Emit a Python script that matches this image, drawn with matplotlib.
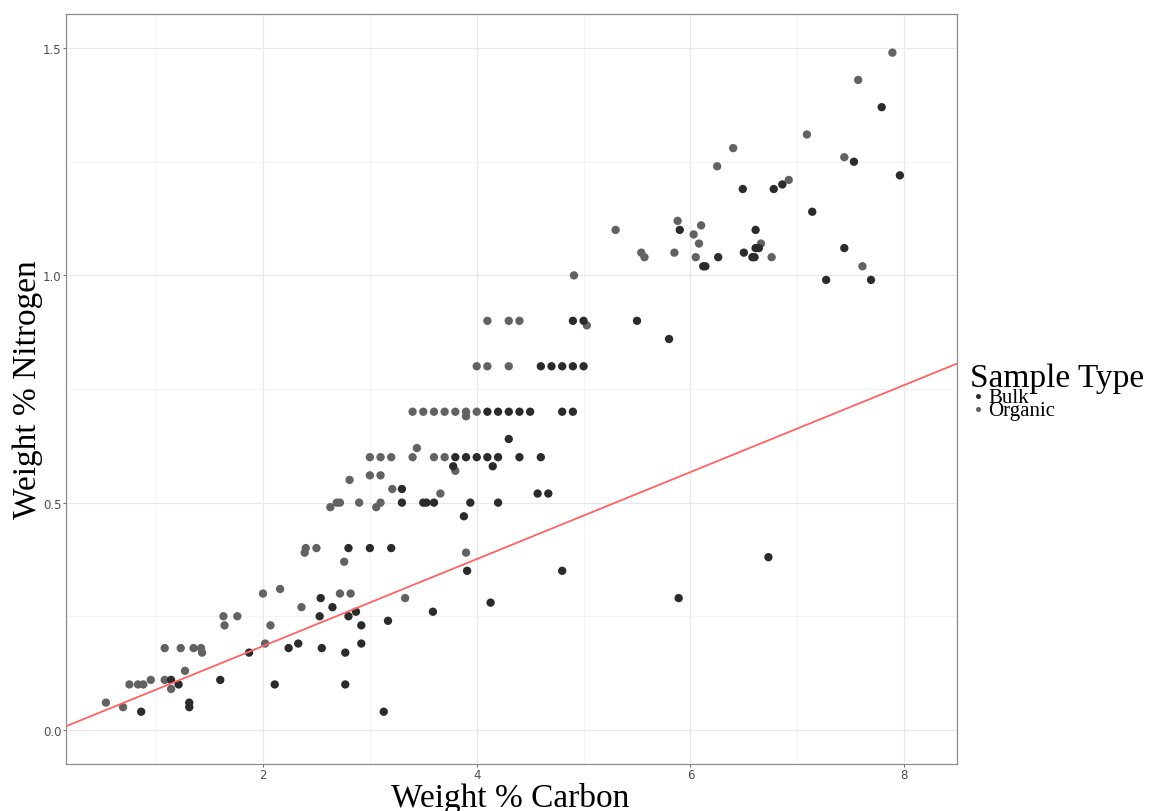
import matplotlib
matplotlib.use("Agg")
import matplotlib.pyplot as plt
from matplotlib.lines import Line2D

# Weight % carbon / nitrogen
bulk_c = [0.86, 1.14, 1.21, 1.31, 1.31, 1.60, 1.87, 2.11, 2.24, 2.33, 2.53, 2.54, 2.55, 2.65,
          2.77, 2.77, 2.80, 2.80, 2.87, 2.92, 2.92, 3.00, 3.13, 3.17, 3.20, 3.30, 3.30, 3.50,
          3.53, 3.59, 3.60, 3.78, 3.80, 3.88, 3.90, 3.91, 3.94, 4.00, 4.10, 4.10, 4.13, 4.15,
          4.20, 4.20, 4.20, 4.30, 4.30, 4.40, 4.40, 4.50, 4.57, 4.60, 4.60, 4.67, 4.70, 4.80,
          4.80, 4.80, 4.90, 4.90, 4.90, 5.00, 5.00, 5.50, 5.80, 5.89, 5.90, 6.12, 6.14, 6.26,
          6.49, 6.50, 6.58, 6.60, 6.61, 6.61, 6.64, 6.73, 6.78, 6.86, 7.14, 7.27, 7.44, 7.53,
          7.69, 7.79, 7.96]
bulk_n = [0.04, 0.11, 0.10, 0.06, 0.05, 0.11, 0.17, 0.10, 0.18, 0.19, 0.25, 0.29, 0.18, 0.27,
          0.17, 0.10, 0.25, 0.40, 0.26, 0.23, 0.19, 0.40, 0.04, 0.24, 0.40, 0.53, 0.50, 0.50,
          0.50, 0.26, 0.50, 0.58, 0.60, 0.47, 0.60, 0.35, 0.50, 0.60, 0.60, 0.70, 0.28, 0.58,
          0.50, 0.60, 0.70, 0.64, 0.70, 0.60, 0.70, 0.70, 0.52, 0.60, 0.80, 0.52, 0.80, 0.35,
          0.70, 0.80, 0.70, 0.80, 0.90, 0.80, 0.90, 0.90, 0.86, 0.29, 1.10, 1.02, 1.02, 1.04,
          1.19, 1.05, 1.04, 1.04, 1.10, 1.06, 1.06, 0.38, 1.19, 1.20, 1.14, 0.99, 1.06, 1.25,
          0.99, 1.37, 1.22]

organic_c = [0.53, 0.69, 0.75, 0.83, 0.88, 0.95, 1.08, 1.08, 1.14, 1.23, 1.27, 1.35, 1.42, 1.43,
             1.63, 1.64, 1.76, 2.00, 2.02, 2.07, 2.16, 2.36, 2.39, 2.40, 2.50, 2.63, 2.69, 2.72,
             2.72, 2.76, 2.81, 2.82, 2.90, 3.00, 3.00, 3.06, 3.10, 3.10, 3.10, 3.20, 3.21, 3.33,
             3.40, 3.40, 3.44, 3.50, 3.60, 3.60, 3.66, 3.70, 3.70, 3.80, 3.80, 3.90, 3.90, 3.90,
             4.00, 4.00, 4.10, 4.10, 4.30, 4.30, 4.40, 4.91, 5.03, 5.30, 5.54, 5.57, 5.85, 5.88,
             6.03, 6.05, 6.08, 6.10, 6.25, 6.40, 6.66, 6.76, 6.92, 7.09, 7.44, 7.57, 7.61, 7.89]
organic_n = [0.06, 0.05, 0.10, 0.10, 0.10, 0.11, 0.18, 0.11, 0.09, 0.18, 0.13, 0.18, 0.18, 0.17,
             0.25, 0.23, 0.25, 0.30, 0.19, 0.23, 0.31, 0.27, 0.39, 0.40, 0.40, 0.49, 0.50, 0.50,
             0.30, 0.37, 0.55, 0.30, 0.50, 0.56, 0.60, 0.49, 0.50, 0.56, 0.60, 0.60, 0.53, 0.29,
             0.60, 0.70, 0.62, 0.70, 0.60, 0.70, 0.52, 0.60, 0.70, 0.57, 0.70, 0.70, 0.69, 0.39,
             0.70, 0.80, 0.80, 0.90, 0.80, 0.90, 0.90, 1.00, 0.89, 1.10, 1.05, 1.04, 1.05, 1.12,
             1.09, 1.04, 1.07, 1.11, 1.24, 1.28, 1.07, 1.04, 1.21, 1.31, 1.26, 1.43, 1.02, 1.49]

# reference line
line_intercept = -0.007
line_slope = 0.0957

bulk_col = "#2b2b2b"
organic_col = "#626262"
serif = "Liberation Serif"

fig = plt.figure(figsize=(11.55, 8.12), dpi=100)
ax = fig.add_axes([0.0571, 0.0579, 0.7715, 0.9236])

ax.scatter(organic_c, organic_n, s=36, color=organic_col, edgecolors="none", zorder=3)
ax.scatter(bulk_c, bulk_n, s=36, color=bulk_col, edgecolors="none", zorder=3)
ax.axline((0, line_intercept), slope=line_slope, color="#ff6262", lw=1.3, zorder=4)

ax.set_xlim(0.156, 8.495)
ax.set_ylim(-0.075, 1.575)
ax.set_xticks([2, 4, 6, 8])
ax.set_yticks([0.0, 0.5, 1.0, 1.5])
ax.set_yticklabels(["0.0", "0.5", "1.0", "1.5"])
ax.set_xticks([1, 3, 5, 7], minor=True)
ax.set_yticks([0.25, 0.75, 1.25], minor=True)
ax.grid(True, which="major", color="#e8e8e8", lw=0.9, zorder=0)
ax.grid(True, which="minor", color="#f3f3f3", lw=0.6, zorder=0)
ax.set_axisbelow(True)
ax.tick_params(which="major", length=2.2, width=0.6, color="#555555",
               labelsize=8.5, labelcolor="#4d4d4d", pad=1)
ax.tick_params(which="minor", length=0)
for sp in ax.spines.values():
    sp.set_color("#8c8c8c")
    sp.set_linewidth(0.9)

ax.set_xlabel("Weight % Carbon", fontsize=24, family=serif)
ax.xaxis.set_label_coords(0.499, -0.0235)
ax.set_ylabel("Weight % Nitrogen", fontsize=24, family=serif)
ax.yaxis.set_label_coords(-0.0255, 0.5)

# legend
fig.text(0.8398, 0.5234, "Sample Type", fontsize=24, family=serif, va="baseline")
labels = ["Bulk", "Organic"]
cols = [bulk_col, organic_col]
ys = [0.5111, 0.4951]
for lab, c, yy in zip(labels, cols, ys):
    fig.add_artist(Line2D([0.8468], [yy], marker="o", ms=3.6, color=c, mec="none", ls="none"))
    fig.text(0.8554, yy - 0.0074, lab, fontsize=15, family=serif, va="baseline")

fig.savefig("out.png", dpi=100)
